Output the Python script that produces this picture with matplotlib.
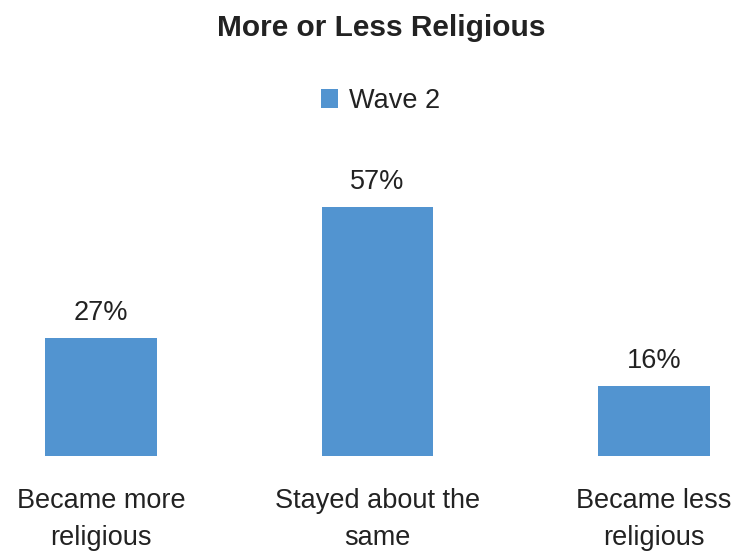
import matplotlib.pyplot as plt

plt.rcParams['font.family'] = ['Liberation Sans', 'DejaVu Sans']

# dados
categorias = ['Became more\nreligious', 'Stayed about the\nsame', 'Became less\nreligious']
valores = [27, 57, 16]
serie = 'Wave 2'
cor = '#5294d0'

fig = plt.figure(figsize=(7.33, 5.55), dpi=100)
ax = fig.add_axes([0.0, 99 / 555, 1.0, 262 / 555])

x = range(len(categorias))
bars = ax.bar(x, valores, width=0.405, color=cor, label=serie)
ax.set_xlim(-101 / 276.5, 2 + 79 / 276.5)
ax.set_ylim(0, 60)

for b, v in zip(bars, valores):
    ax.text(b.get_x() + b.get_width() / 2, v + 2.7, f'{v}%', ha='center', va='bottom',
            fontsize=19.5, color='#222222')

ax.set_xticks(list(x))
ax.set_xticklabels(categorias, fontsize=19.5, color='#222222', linespacing=1.55)
ax.tick_params(axis='x', length=0, pad=23)
ax.set_yticks([])
for s in ax.spines.values():
    s.set_visible(False)

fig.text(0.52, 1 - 28 / 555, 'More or Less Religious', ha='center', va='center',
         fontsize=21.5, fontweight='bold', color='#222222')
fig.legend(loc='center', bbox_to_anchor=(0.519, 1 - 101 / 555), frameon=False,
           fontsize=19.5, handlelength=0.65, handleheight=0.65, handletextpad=0.4,
           labelcolor='#222222')

plt.savefig('out.png', dpi=100)
